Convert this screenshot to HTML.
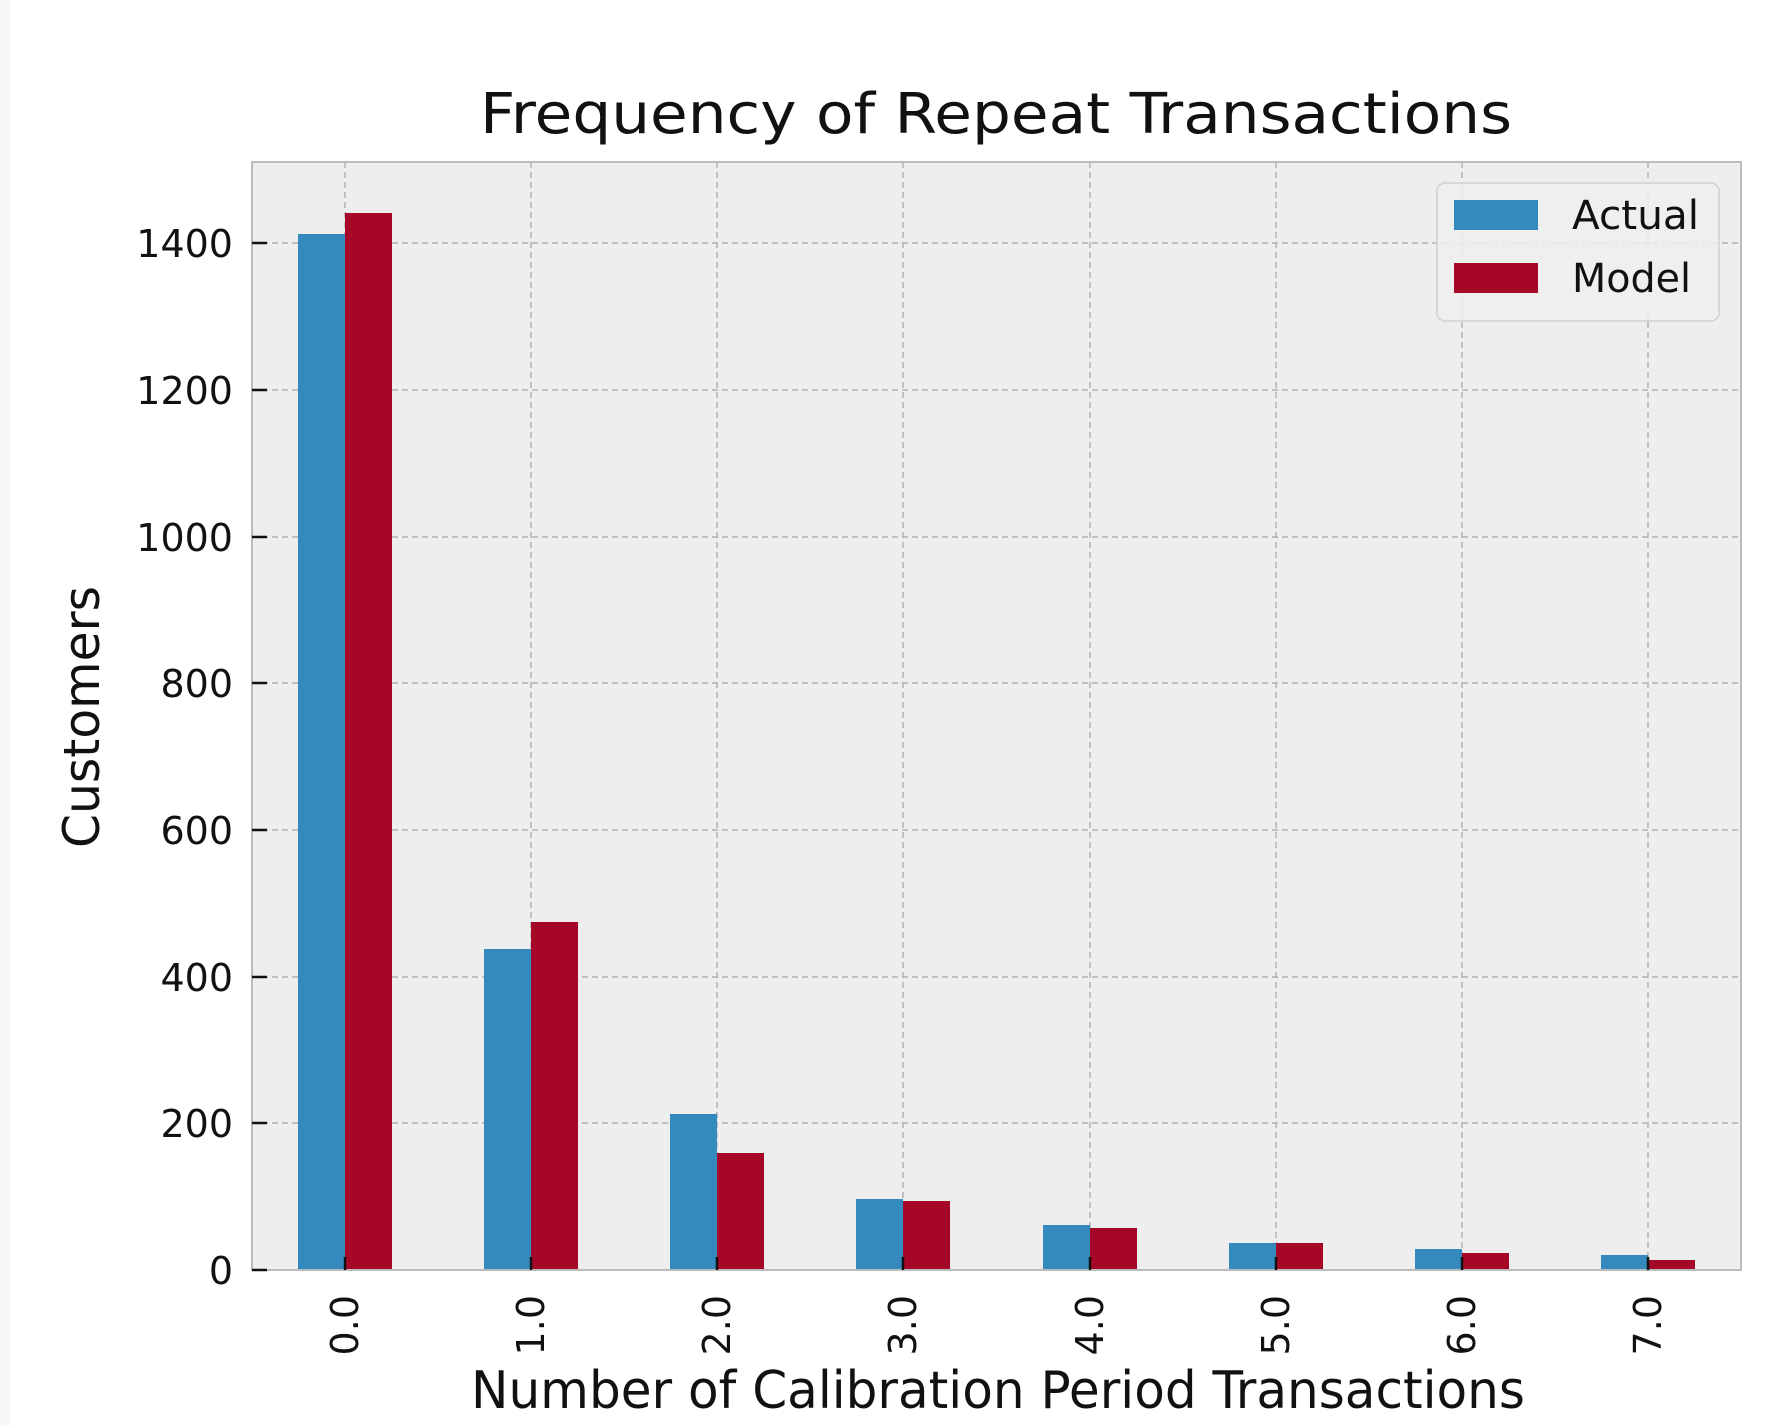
<!DOCTYPE html>
<html><head><meta charset="utf-8"><style>
html,body{margin:0;padding:0;background:#fff;}
svg{display:block;font-family:"DejaVu Sans","Liberation Sans",sans-serif;}
</style></head><body>
<svg width="1790" height="1426" viewBox="0 0 1790 1426" xmlns="http://www.w3.org/2000/svg">
<rect x="0" y="0" width="1790" height="1426" fill="#fff"/>
<rect x="0" y="0" width="10" height="1426" fill="#f7f7f7"/>
<text x="996" y="133" font-size="56" text-anchor="middle" fill="#111" textLength="1032" lengthAdjust="spacingAndGlyphs">Frequency of Repeat Transactions</text>
<rect x="252" y="162" width="1489" height="1108" fill="#eeeeee"/>
<g stroke="#b2b2b2" stroke-width="1.5" stroke-dasharray="6,4" fill="none">
<line x1="252" y1="1123" x2="1741" y2="1123"/>
<line x1="252" y1="977" x2="1741" y2="977"/>
<line x1="252" y1="830" x2="1741" y2="830"/>
<line x1="252" y1="683" x2="1741" y2="683"/>
<line x1="252" y1="537" x2="1741" y2="537"/>
<line x1="252" y1="390" x2="1741" y2="390"/>
<line x1="252" y1="243" x2="1741" y2="243"/>
<line x1="345" y1="162" x2="345" y2="1270"/>
<line x1="531" y1="162" x2="531" y2="1270"/>
<line x1="717" y1="162" x2="717" y2="1270"/>
<line x1="903" y1="162" x2="903" y2="1270"/>
<line x1="1090" y1="162" x2="1090" y2="1270"/>
<line x1="1276" y1="162" x2="1276" y2="1270"/>
<line x1="1462" y1="162" x2="1462" y2="1270"/>
<line x1="1648" y1="162" x2="1648" y2="1270"/>
</g>
<g fill="#348abd">
<rect x="298" y="234" width="47" height="1036"/>
<rect x="484" y="949" width="47" height="321"/>
<rect x="670" y="1114" width="47" height="156"/>
<rect x="856" y="1199" width="47" height="71"/>
<rect x="1043" y="1225" width="47" height="45"/>
<rect x="1229" y="1243" width="47" height="27"/>
<rect x="1415" y="1249" width="47" height="21"/>
<rect x="1601" y="1255" width="47" height="15"/>
</g>
<g fill="#a60628">
<rect x="345" y="213" width="47" height="1057"/>
<rect x="531" y="922" width="47" height="348"/>
<rect x="717" y="1153" width="47" height="117"/>
<rect x="903" y="1201" width="47" height="69"/>
<rect x="1090" y="1228" width="47" height="42"/>
<rect x="1276" y="1243" width="47" height="27"/>
<rect x="1462" y="1253" width="47" height="17"/>
<rect x="1648" y="1260" width="47" height="10"/>
</g>
<rect x="252" y="162" width="1489" height="1108" fill="none" stroke="#bcbcbc" stroke-width="2"/>
<g stroke="#111" stroke-width="2.5">
<line x1="252" y1="1270" x2="267" y2="1270"/>
<line x1="252" y1="1123" x2="267" y2="1123"/>
<line x1="252" y1="977" x2="267" y2="977"/>
<line x1="252" y1="830" x2="267" y2="830"/>
<line x1="252" y1="683" x2="267" y2="683"/>
<line x1="252" y1="537" x2="267" y2="537"/>
<line x1="252" y1="390" x2="267" y2="390"/>
<line x1="252" y1="243" x2="267" y2="243"/>
<line x1="345" y1="1270" x2="345" y2="1257"/>
<line x1="531" y1="1270" x2="531" y2="1257"/>
<line x1="717" y1="1270" x2="717" y2="1257"/>
<line x1="903" y1="1270" x2="903" y2="1257"/>
<line x1="1090" y1="1270" x2="1090" y2="1257"/>
<line x1="1276" y1="1270" x2="1276" y2="1257"/>
<line x1="1462" y1="1270" x2="1462" y2="1257"/>
<line x1="1648" y1="1270" x2="1648" y2="1257"/>
</g>
<g font-size="38" fill="#111" text-anchor="end">
<text x="233" y="1284">0</text>
<text x="233" y="1137">200</text>
<text x="233" y="991">400</text>
<text x="233" y="844">600</text>
<text x="233" y="697">800</text>
<text x="233" y="551">1000</text>
<text x="233" y="404">1200</text>
<text x="233" y="257">1400</text>
</g>
<g font-size="38" fill="#111" text-anchor="end">
<text transform="translate(358,1295) rotate(-90)">0.0</text>
<text transform="translate(544,1295) rotate(-90)">1.0</text>
<text transform="translate(730,1295) rotate(-90)">2.0</text>
<text transform="translate(916,1295) rotate(-90)">3.0</text>
<text transform="translate(1103,1295) rotate(-90)">4.0</text>
<text transform="translate(1289,1295) rotate(-90)">5.0</text>
<text transform="translate(1475,1295) rotate(-90)">6.0</text>
<text transform="translate(1661,1295) rotate(-90)">7.0</text>
</g>
<text x="998" y="1408" font-size="52" fill="#111" text-anchor="middle" textLength="1054" lengthAdjust="spacingAndGlyphs">Number of Calibration Period Transactions</text>
<text transform="translate(99,717) rotate(-90)" font-size="50" fill="#111" text-anchor="middle" textLength="262" lengthAdjust="spacingAndGlyphs">Customers</text>
<rect x="1437" y="183" width="282" height="138" rx="8" fill="#eeeeee" fill-opacity="0.85" stroke="#d0d0d0" stroke-width="1.5"/>
<rect x="1454" y="200" width="84" height="30" fill="#348abd"/>
<rect x="1454" y="263" width="84" height="30" fill="#a60628"/>
<g font-size="40" fill="#111">
<text x="1572" y="229" textLength="127" lengthAdjust="spacingAndGlyphs">Actual</text>
<text x="1572" y="292" textLength="119" lengthAdjust="spacingAndGlyphs">Model</text>
</g>
</svg>
</body></html>
